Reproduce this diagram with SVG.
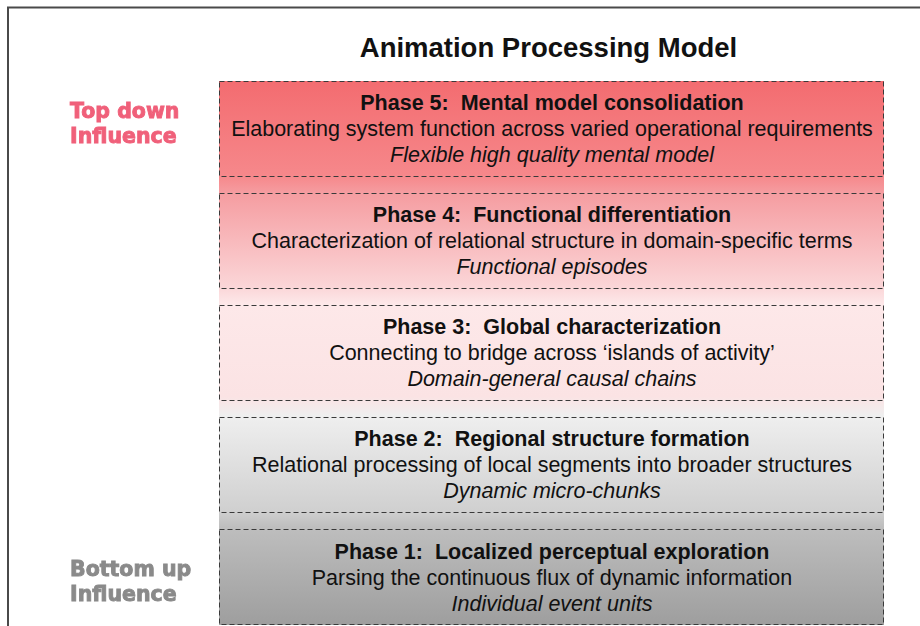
<svg xmlns="http://www.w3.org/2000/svg" width="920" height="626" viewBox="0 0 920 626">
<defs>
<linearGradient id="col" x1="0" y1="81" x2="0" y2="625" gradientUnits="userSpaceOnUse">
<stop offset="0" stop-color="#f36c70"/>
<stop offset="0.175" stop-color="#f6888b"/>
<stop offset="0.205" stop-color="#f59ca0"/>
<stop offset="0.38" stop-color="#fbd6d8"/>
<stop offset="0.41" stop-color="#fde8e9"/>
<stop offset="0.58" stop-color="#fbe3e4"/>
<stop offset="0.615" stop-color="#efefef"/>
<stop offset="0.79" stop-color="#d0d0d0"/>
<stop offset="0.82" stop-color="#bebebe"/>
<stop offset="1" stop-color="#9e9e9e"/>
</linearGradient>
<filter id="soft" x="-10%" y="-30%" width="120%" height="160%">
<feGaussianBlur stdDeviation="0.6"/>
</filter>
</defs>
<style>
.box{fill:none;stroke:#3a3a3a;stroke-width:1;stroke-dasharray:5 3}
.t{font-family:"Liberation Sans",Arial,sans-serif;font-size:21.5px;fill:#111;text-anchor:middle}
.b{font-weight:bold}
.i{font-style:italic}
.side{font-family:"DejaVu Sans",sans-serif;font-weight:bold;font-size:20.5px;stroke-width:0.9}
.pink{fill:#f0607a;stroke:#f0607a}
.grey{fill:#8a8a8a;stroke:#8a8a8a}
</style>
<rect x="0" y="0" width="920" height="626" fill="#ffffff"/>
<g id="frame">
<line x1="7" y1="7.5" x2="920" y2="7.5" stroke="#4a4a4a" stroke-width="2"/>
<line x1="8" y1="7" x2="8" y2="626" stroke="#4a4a4a" stroke-width="2"/>
</g>
<text id="title" x="548.5" y="57" font-family="Liberation Sans, Arial, sans-serif" font-weight="bold" font-size="27.5" fill="#111" text-anchor="middle">Animation Processing Model</text>
<rect x="219" y="81" width="665" height="544" fill="url(#col)"/>
<g id="top-down" filter="url(#soft)">
<text class="side pink" x="70" y="117.5">Top down</text>
<text class="side pink" x="70" y="143">Influence</text>
</g>
<g id="bottom-up" filter="url(#soft)">
<text class="side grey" x="70" y="576">Bottom up</text>
<text class="side grey" x="70" y="600.5">Influence</text>
</g>
<g id="phase5">
<rect class="box" x="219.5" y="81.5" width="664" height="95"/>
<text class="t b" x="552" y="110">Phase 5:&#160; Mental model consolidation</text>
<text class="t" x="552" y="136">Elaborating system function across varied operational requirements</text>
<text class="t i" x="552" y="162">Flexible high quality mental model</text>
</g>
<g id="phase4">
<rect class="box" x="219.5" y="193.5" width="664" height="95"/>
<text class="t b" x="552" y="222">Phase 4:&#160; Functional differentiation</text>
<text class="t" x="552" y="248">Characterization of relational structure in domain-specific terms</text>
<text class="t i" x="552" y="274">Functional episodes</text>
</g>
<g id="phase3">
<rect class="box" x="219.5" y="305.5" width="664" height="95"/>
<text class="t b" x="552" y="334">Phase 3:&#160; Global characterization</text>
<text class="t" x="552" y="360">Connecting to bridge across ‘islands of activity’</text>
<text class="t i" x="552" y="386">Domain-general causal chains</text>
</g>
<g id="phase2">
<rect class="box" x="219.5" y="417.5" width="664" height="95"/>
<text class="t b" x="552" y="446">Phase 2:&#160; Regional structure formation</text>
<text class="t" x="552" y="472">Relational processing of local segments into broader structures</text>
<text class="t i" x="552" y="498">Dynamic micro-chunks</text>
</g>
<g id="phase1">
<rect class="box" x="219.5" y="529.5" width="664" height="95"/>
<text class="t b" x="552" y="558.5">Phase 1:&#160; Localized perceptual exploration</text>
<text class="t" x="552" y="585">Parsing the continuous flux of dynamic information</text>
<text class="t i" x="552" y="611">Individual event units</text>
</g>
<g id="connectors"/>
</svg>
